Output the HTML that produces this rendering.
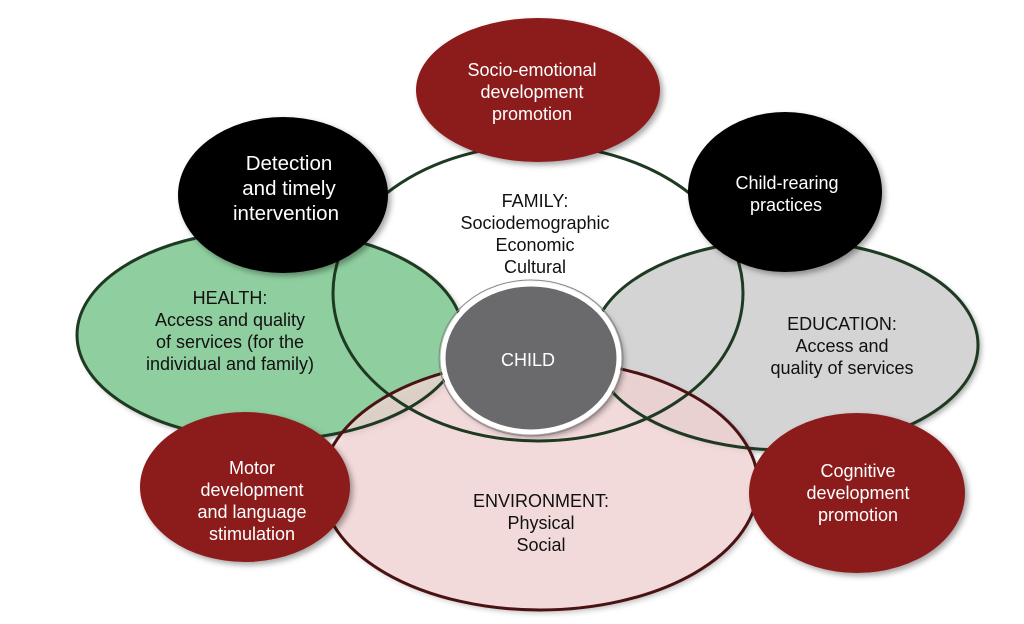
<!DOCTYPE html>
<html><head><meta charset="utf-8"><style>
html,body{margin:0;padding:0;background:#fff;}
svg{display:block;}
text{font-family:"Liberation Sans",sans-serif;text-anchor:middle;}
</style></head><body>
<svg width="1024" height="624" viewBox="0 0 1024 624">
<defs>
<filter id="sh" x="-20%" y="-20%" width="140%" height="140%"><feDropShadow dx="3" dy="3" stdDeviation="3" flood-color="#000" flood-opacity="0.35"/></filter>
</defs>
<ellipse cx="538" cy="293" rx="205" ry="148" fill="#fff"/>
<ellipse cx="270" cy="335" rx="193" ry="105" fill="#8fce9f" filter="url(#sh)"/>
<ellipse cx="785" cy="345" rx="193" ry="105" fill="#d4d4d4" filter="url(#sh)"/>
<ellipse cx="540" cy="485" rx="218" ry="125" fill="#fad8d8" fill-opacity="0.72" filter="url(#sh)"/>
<ellipse cx="538" cy="293" rx="205" ry="148" fill="none" stroke="#1f3a22" stroke-width="3"/>
<ellipse cx="270" cy="335" rx="193" ry="105" fill="none" stroke="#1f3a22" stroke-width="3"/>
<ellipse cx="785" cy="345" rx="193" ry="105" fill="none" stroke="#1f3a22" stroke-width="3"/>
<ellipse cx="540" cy="485" rx="218" ry="125" fill="none" stroke="#4a1212" stroke-width="3"/>
<ellipse cx="531" cy="358" rx="88" ry="74" fill="#6b6b6d" stroke="#fff" stroke-width="5" filter="url(#sh)"/>
<ellipse cx="531" cy="358" rx="92" ry="78" fill="none" stroke="#888" stroke-width="1"/>
<ellipse cx="538" cy="90" rx="122" ry="72" fill="#8c1c1e" filter="url(#sh)"/>
<ellipse cx="283" cy="195" rx="105" ry="78" fill="#000" filter="url(#sh)"/>
<ellipse cx="785" cy="192" rx="97" ry="80" fill="#000" filter="url(#sh)"/>
<ellipse cx="245" cy="487" rx="105" ry="75" fill="#8c1c1e" filter="url(#sh)"/>
<ellipse cx="857" cy="493" rx="108" ry="80" fill="#8c1c1e" filter="url(#sh)"/>
<g fill="#fff" font-size="18">
<text x="532" y="76">Socio-emotional</text>
<text x="532" y="98">development</text>
<text x="532" y="120">promotion</text>
<text x="289" y="170" font-size="20.5">Detection</text>
<text x="289" y="195" font-size="20.5">and timely</text>
<text x="286" y="220" font-size="20.5">intervention</text>
<text x="787" y="189">Child-rearing</text>
<text x="786" y="211">practices</text>
<text x="528" y="366">CHILD</text>
<text x="252" y="474">Motor</text>
<text x="252" y="496">development</text>
<text x="252" y="518">and language</text>
<text x="252" y="540">stimulation</text>
<text x="858" y="477">Cognitive</text>
<text x="858" y="499">development</text>
<text x="858" y="521">promotion</text>
</g>
<g fill="#111" font-size="18">
<text x="535" y="207">FAMILY:</text>
<text x="535" y="229">Sociodemographic</text>
<text x="535" y="251">Economic</text>
<text x="535" y="273">Cultural</text>
<text x="230" y="304">HEALTH:</text>
<text x="230" y="326">Access and quality</text>
<text x="230" y="348">of services (for the</text>
<text x="230" y="370">individual and family)</text>
<text x="842" y="330">EDUCATION:</text>
<text x="842" y="352">Access and</text>
<text x="842" y="374">quality of services</text>
<text x="541" y="507">ENVIRONMENT:</text>
<text x="541" y="529">Physical</text>
<text x="541" y="551">Social</text>
</g>
</svg>
</body></html>
